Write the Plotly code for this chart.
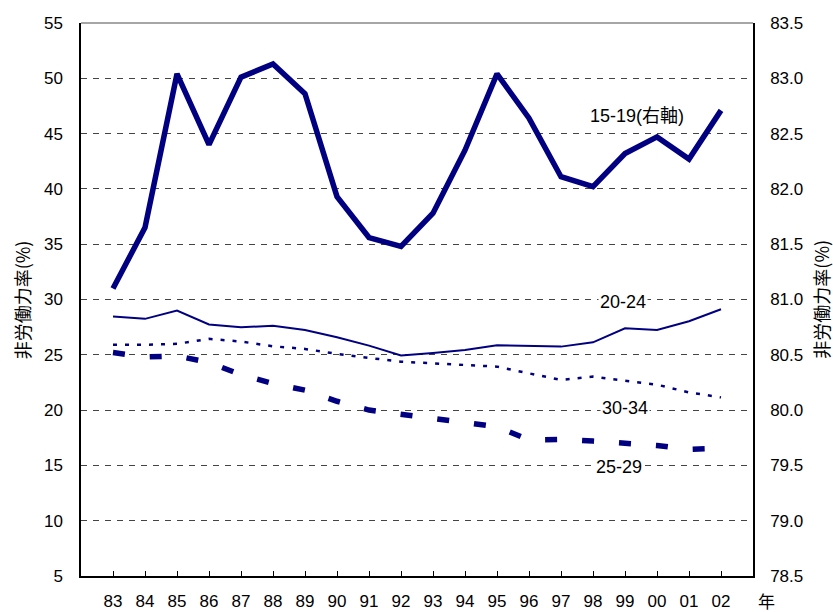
import plotly.graph_objects as go

years = ["83","84","85","86","87","88","89","90","91","92","93","94","95","96","97","98","99","00","01","02"]
age_15_19 = [81.10,81.65,83.04,82.40,83.01,83.13,82.86,81.93,81.56,81.48,81.78,82.35,83.04,82.64,82.11,82.02,82.32,82.47,82.27,82.71]
age_20_24 = [28.46,28.25,29.0,27.74,27.49,27.62,27.25,26.59,25.83,24.93,25.17,25.44,25.86,25.77,25.74,26.13,27.4,27.25,28.03,29.12]
age_25_29 = [25.2,24.8,24.9,24.3,23.2,22.4,21.8,20.8,20.0,19.6,19.3,18.9,18.5,17.3,17.35,17.2,17.05,16.8,16.45,16.55]
age_30_34 = [25.9,25.9,25.99,26.44,26.2,25.77,25.53,25.08,24.72,24.38,24.23,24.08,23.93,23.32,22.73,23.03,22.66,22.3,21.6,21.15]
left_ticks = [5,10,15,20,25,30,35,40,45,50,55]
right_ticks = [78.5,79.0,79.5,80.0,80.5,81.0,81.5,82.0,82.5,83.0,83.5]

navy = "#000080"
xi = list(range(len(years)))

fig = go.Figure()
fig.add_trace(go.Scatter(x=xi, y=age_20_24, mode="lines", line=dict(color=navy, width=2), showlegend=False))
fig.add_trace(go.Scatter(x=xi, y=age_30_34, mode="lines", line=dict(color=navy, width=2.5, dash="4px,8px"), showlegend=False))
fig.add_trace(go.Scatter(x=xi, y=age_25_29, mode="lines", line=dict(color=navy, width=5.5, dash="12px,25px"), showlegend=False))
fig.add_trace(go.Scatter(x=xi, y=age_15_19, mode="lines", line=dict(color=navy, width=5.5), yaxis="y2", showlegend=False))

tickfont = dict(family="Liberation Sans, Arial", size=17, color="#000")
cjk = "Noto Sans CJK JP"

fig.update_layout(
    width=833, height=612,
    margin=dict(l=81, r=80, t=23, b=36, autoexpand=False),
    plot_bgcolor="white", paper_bgcolor="white",
    xaxis=dict(range=[-1, 20], tickvals=xi, ticktext=years, ticks="inside", ticklen=5,
               tickcolor="#000", showgrid=False, zeroline=False, showline=True,
               linecolor="#000", linewidth=1.5, tickfont=tickfont, ticklabelstandoff=9,
               automargin=False),
    yaxis=dict(range=[5, 55], tickvals=left_ticks, showgrid=True, gridcolor="#444",
               griddash="6px,6px", gridwidth=1, zeroline=False, showline=True,
               linecolor="#000", linewidth=1.5, ticks="", tickfont=tickfont, ticklabelstandoff=13,
               automargin=False),
    yaxis2=dict(range=[78.5, 83.5], tickvals=right_ticks, tickformat=".1f", overlaying="y",
                side="right", showgrid=False, zeroline=False, showline=True,
                linecolor="#000", linewidth=1.5, ticks="", tickfont=tickfont, ticklabelstandoff=12,
                automargin=False),
)

fig.add_shape(type="line", xref="paper", yref="paper", x0=0, x1=1, y0=1, y1=1,
              line=dict(color="#888", width=1.5))

lab_font = dict(family="Liberation Sans, Arial", size=18, color="#000")
def lab(x, y, t, font=lab_font):
    fig.add_annotation(x=x, y=y, xref="x", yref="y", text=t, showarrow=False,
                       bgcolor="white", font=font, borderpad=1)

lab(16.375, 46.6, "15-19(右軸)", dict(family="Liberation Sans, " + cjk, size=18, color="#000"))
lab(15.95, 29.8, "20-24")
lab(16.0, 20.2, "30-34")
lab(15.8, 14.9, "25-29")

fig.add_annotation(xref="paper", yref="paper", x=-0.088, y=0.5, xanchor="center", yanchor="middle",
                   text="非労働力率(%)", textangle=-90, showarrow=False,
                   font=dict(family=cjk, size=18, color="#000"))
fig.add_annotation(xref="paper", yref="paper", x=1.1, y=0.5, xanchor="center", yanchor="middle",
                   text="非労働力率(%)", textangle=-90, showarrow=False,
                   font=dict(family=cjk, size=18, color="#000"))
fig.add_annotation(xref="paper", yref="paper", x=1.02, y=-0.045, yanchor="middle", xanchor="center",
                   text="年", showarrow=False, font=dict(family=cjk, size=17, color="#000"))

fig.write_html("out.html", config={"displayModeBar": False},
               post_script="document.body.style.margin='0';")
